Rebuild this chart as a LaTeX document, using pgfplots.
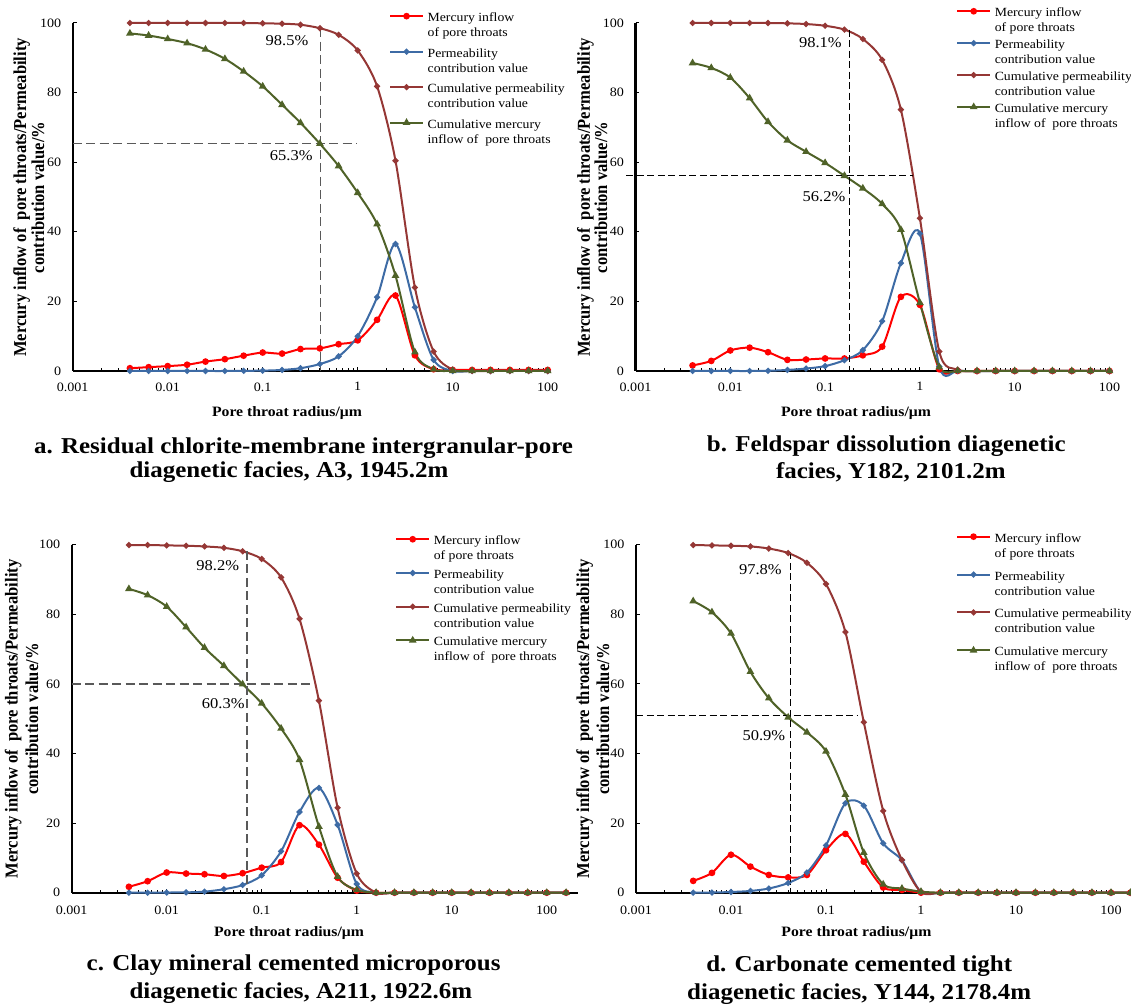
\documentclass[border=0pt]{standalone}
\usepackage{fontspec}
\setmainfont{Liberation Serif}[FakeStretch=1.1]
\newfontfamily\yfont{Liberation Serif}[FakeStretch=0.91]
\usepackage{pgfplots}
\usepackage{pgfplotstable}
\pgfplotsset{compat=1.18}

\definecolor{hgred}{HTML}{FF0000}
\definecolor{permblue}{HTML}{3D6BA5}
\definecolor{cumred}{HTML}{953735}
\definecolor{cumgreen}{HTML}{4F6228}
\definecolor{dashgray}{HTML}{595959}

\newcommand\tickfont{\fontsize{12.8}{15}\selectfont}
\newcommand\legfont{\fontsize{12.5}{15}\selectfont}
\newcommand\labfont{\fontsize{14.3}{17}\selectfont\bfseries}
\newcommand\ylabfont{\yfont\bfseries\fontsize{18.2}{20}\selectfont}
\newcommand\titfont{\fontsize{22.7}{27}\selectfont\bfseries}
\newcommand\pctfont{\fontsize{15}{18}\selectfont}
% two-line legend text: box of height 30pt, no depth, first baseline 19.5pt up
\newcommand\twol[2]{\raisebox{19.5pt}{\vtop{\hbox{\strut #1}\hbox{\strut #2}}}}

% columns: radius, mercury inflow, permeability contribution,
% cumulative permeability contribution, cumulative mercury inflow
\pgfplotstableread{
x      hg    pc    cpc    chg
0.004  0.8   0     100    97.0
0.0063 1.1   0     100    96.4
0.01   1.4   0     100    95.4
0.016  1.8   0     100    94.2
0.025  2.7   0     100    92.4
0.04   3.4   0     100    89.7
0.063  4.4   0.05  100    86.1
0.1    5.3   0.1   99.9   81.8
0.16   5.0   0.3   99.8   76.5
0.25   6.3   0.8   99.5   71.3
0.4    6.5   2.0   98.5   65.3
0.63   7.7   4.2   96.6   58.9
1      8.8   10.0  92.1   51.2
1.6    14.7  21.2  81.8   42.2
2.5    21.7  36.5  60.4   27.4
4      4.5   18.3  24.0   5.4
6.3    0.5   3.2   5.6    0.5
10     0.3   0     0.4    0
16     0.3   0     0      0
25     0.3   0     0      0
40     0.3   0     0      0
63     0.3   0     0      0
100    0.3   0     0      0
}\tabA

\pgfplotstableread{
x      hg    pc    cpc    chg
0.004  1.6   0     100    88.5
0.0063 2.9   0     100    87.1
0.01   5.9   0     100    84.3
0.016  6.7   0     100    78.4
0.025  5.4   0.05  100    71.6
0.04   3.2   0.3   99.9   66.3
0.063  3.3   0.7   99.7   63.0
0.1    3.6   1.4   99.2   59.8
0.16   3.6   3.1   98.1   56.1
0.25   4.5   6.0   95.4   52.5
0.4    7.0   14.3  89.4   48.0
0.63   21.3  31.0  75.1   40.6
1      19.0  39.5  43.9   19.6
1.6    0.5   1.3   5.6    1.1
2.5    0     0.1   0.4    0
4      0     0     0      0
6.3    0     0     0      0
10     0     0     0      0
16     0     0     0      0
25     0     0     0      0
40     0     0     0      0
63     0     0     0      0
100    0     0     0      0
}\tabB

\pgfplotstableread{
x      hg    pc    cpc    chg
0.004  1.7   0     99.9   87.3
0.0063 3.3   0     99.9   85.5
0.01   5.8   0.05  99.8   82.2
0.016  5.5   0.1   99.7   76.3
0.025  5.3   0.3   99.5   70.4
0.04   4.8   1.0   99.1   65.2
0.063  5.6   2.2   98.1   59.9
0.1    7.2   5.0   95.9   54.4
0.16   8.8   11.9  90.6   47.2
0.25   19.4  23.2  78.7   38.2
0.4    13.8  30.1  55.2   19.0
0.63   4.3   19.5  24.4   4.6
1      0.6   2.5   5.5    0.8
1.6    0     0     0      0
2.5    0     0     0      0
4      0     0     0      0
6.3    0     0     0      0
10     0     0     0      0
16     0     0     0      0
25     0     0     0      0
40     0     0     0      0
63     0     0     0      0
100    0     0     0      0
160    0     0     0      0
}\tabC

\pgfplotstableread{
x      hg    pc    cpc    chg
0.004  3.4   0     99.9   83.8
0.0063 5.7   0.05  99.8   80.6
0.01   10.9  0.2   99.7   74.5
0.016  7.5   0.5   99.5   63.5
0.025  5.1   1.2   98.9   55.9
0.04   4.4   2.8   97.6   50.4
0.063  5.1   5.8   94.8   46.1
0.1    12.2  13.6  88.7   40.6
0.16   16.9  25.7  74.9   28.2
0.25   8.9   25.0  49.0   11.5
0.4    1.5   14.2  23.5   2.4
0.63   0.8   9.3   9.4    1.2
1      0     0.2   0.2    0.3
1.6    0     0     0      0
2.5    0     0     0      0
4      0     0     0      0
6.3    0     0     0      0
10     0     0     0      0
16     0     0     0      0
25     0     0     0      0
40     0     0     0      0
63     0     0     0      0
100    0     0     0      0
160    0     0     0      0
}\tabD

\pgfplotsset{
  legend image code/.code={\draw[mark repeat=2, mark phase=2, #1] plot coordinates {(0pt,25pt) (16.5pt,25pt) (33pt,25pt)};},
  mypanel/.style={
    scale only axis,
    height=348pt,
    ymin=0, ymax=100,
    xtick={0.001,0.01,0.1,1,10,100},
    xticklabels={0.001,0.01,0.1,1,10,100},
    ytick={0,20,40,60,80,100},
    axis x line=bottom, axis y line=left,
    axis line style={-, line width=2.2pt, black},
    tick align=inside, major tick length=4pt,
    tick style={black, line width=1pt},
    tick label style={font=\tickfont},
    yticklabel style={xshift=-8pt},
    clip=false,
    legend cell align=left,
  },
  myleg/.style n args={3}{legend style={at={(#1,#2)}, anchor=north west, draw=none, fill=none,
      inner sep=0pt, outer sep=0pt, row sep=#3, column sep=3.6pt, font=\legfont,
      nodes={inner sep=0pt, outer sep=0pt, anchor=base west}, cells={anchor=base west}}},
  sHg/.style={color=hgred, line width=2pt, smooth, mark=*, mark size=2.3pt, mark options={solid}},
  sPc/.style={color=permblue, line width=2pt, smooth, mark=*, mark size=1.9pt, mark options={solid}},
  sCpc/.style={color=cumred, line width=2pt, smooth, mark=*, mark size=1.9pt, mark options={solid}},
  sChg/.style={color=cumgreen, line width=2pt, smooth, mark=triangle*, mark size=2.5pt, mark options={solid}},
  dashA/.style={dashgray, line width=1.4pt, dash pattern=on 9pt off 4.5pt, forget plot},
  dashB/.style={black, line width=1.1pt, dash pattern=on 7pt off 3.5pt, forget plot},
}

\begin{document}
\begin{tikzpicture}
\useasboundingbox (0,0) rectangle (1131pt,1006pt);

% ---------- a ----------
\begin{axis}[mypanel, xmode=log, xmin=0.001, xmax=100, width=475pt,
    at={(72.7pt,635pt)}, anchor=south west,
    /pgf/number format/assume math mode=true,
    xticklabel style={yshift=-8pt}, myleg={0.666}{1.034}{4pt}]
\addplot[sHg] table[x=x,y=hg]{\tabA};
\addlegendentry{\twol{Mercury inflow}{of pore throats}}
\addplot[sPc] table[x=x,y=pc]{\tabA};
\addlegendentry{\twol{Permeability}{contribution value}}
\addplot[sCpc] table[x=x,y=cpc]{\tabA};
\addlegendentry{\twol{Cumulative permeability}{contribution value}}
\addplot[sChg] table[x=x,y=chg]{\tabA};
\addlegendentry{\twol{Cumulative mercury}{inflow of \ pore throats}}
\addplot[dashA] coordinates {(0.408,98.5) (0.408,0)};
\addplot[dashA] coordinates {(0.001,65.3) (0.975,65.3)};
\node[font=\pctfont] at (axis cs:0.18,94.9) {98.5\%};
\node[font=\pctfont] at (axis cs:0.2,62.0) {65.3\%};
\end{axis}

% ---------- b ----------
\begin{axis}[mypanel, xmode=log, xmin=0.001, xmax=100, width=474pt,
    at={(635.5pt,635pt)}, anchor=south west,
    /pgf/number format/assume math mode=true,
    xticklabel style={yshift=-8pt}, myleg={0.6766}{1.048}{0.4pt}]
\addplot[sHg] table[x=x,y=hg]{\tabB};
\addlegendentry{\twol{Mercury inflow}{of pore throats}}
\addplot[sPc] table[x=x,y=pc]{\tabB};
\addlegendentry{\twol{Permeability}{contribution value}}
\addplot[sCpc] table[x=x,y=cpc]{\tabB};
\addlegendentry{\twol{Cumulative permeability}{contribution value}}
\addplot[sChg] table[x=x,y=chg]{\tabB};
\addlegendentry{\twol{Cumulative mercury}{inflow of \ pore throats}}
\addplot[dashB] coordinates {(0.18,98.1) (0.18,0)};
\addplot[dashB] coordinates {(0.0008,56.2) (0.853,56.2)};
\node[font=\pctfont] at (axis cs:0.0892,94.3) {98.1\%};
\node[font=\pctfont] at (axis cs:0.0974,50.1) {56.2\%};
\end{axis}

% ---------- c ----------
\begin{axis}[mypanel, xmode=log, xmin=0.001, xmax=213.5, width=506.3pt,
    at={(71.7pt,113.3pt)}, anchor=south west,
    /pgf/number format/assume math mode=true,
    xticklabel style={yshift=-9.7pt}, myleg={0.639}{1.030}{2.2pt}]
\addplot[sHg] table[x=x,y=hg]{\tabC};
\addlegendentry{\twol{Mercury inflow}{of pore throats}}
\addplot[sPc] table[x=x,y=pc]{\tabC};
\addlegendentry{\twol{Permeability}{contribution value}}
\addplot[sCpc] table[x=x,y=cpc]{\tabC};
\addlegendentry{\twol{Cumulative permeability}{contribution value}}
\addplot[sChg] table[x=x,y=chg]{\tabC};
\addlegendentry{\twol{Cumulative mercury}{inflow of \ pore throats}}
\addplot[dashA] coordinates {(0.0703,98.2) (0.0703,0)};
\addplot[dashA] coordinates {(0.001,60) (0.34,60)};
\node[font=\pctfont] at (axis cs:0.0345,94.0) {98.2\%};
\node[font=\pctfont] at (axis cs:0.0394,54.2) {60.3\%};
\end{axis}

% ---------- d ----------
\begin{axis}[mypanel, xmode=log, xmin=0.001, xmax=162.4, width=495pt,
    at={(636pt,113.3pt)}, anchor=south west,
    /pgf/number format/assume math mode=true,
    xticklabel style={yshift=-9.7pt}, myleg={0.6465}{1.0375}{6.4pt}]
\addplot[sHg] table[x=x,y=hg]{\tabD};
\addlegendentry{\twol{Mercury inflow}{of pore throats}}
\addplot[sPc] table[x=x,y=pc]{\tabD};
\addlegendentry{\twol{Permeability}{contribution value}}
\addplot[sCpc] table[x=x,y=cpc]{\tabD};
\addlegendentry{\twol{Cumulative permeability}{contribution value}}
\addplot[sChg] table[x=x,y=chg]{\tabD};
\addlegendentry{\twol{Cumulative mercury}{inflow of \ pore throats}}
\addplot[dashB] coordinates {(0.0427,97.8) (0.0427,0)};
\addplot[dashB] coordinates {(0.001,51) (0.213,51)};
\node[font=\pctfont] at (axis cs:0.0204,92.8) {97.8\%};
\node[font=\pctfont] at (axis cs:0.0222,45.1) {50.9\%};
\end{axis}

% axis labels
\foreach \l/\r/\cy in {26.2/44/808.5, 589.8/607/808.5, 17.6/38/287, 589/609/287}{
  \node[rotate=90, anchor=base, font=\ylabfont, inner sep=0pt] at (\l pt,\cy pt) {Mercury inflow of \ pore throats/Permeability};
  \node[rotate=90, anchor=base, font=\ylabfont, inner sep=0pt] at (\r pt,\cy pt) {contribution value/\%};
}
\node[anchor=base, font=\labfont] at (287pt,589.3pt) {Pore throat radius/μm};
\node[anchor=base, font=\labfont] at (856pt,589.3pt) {Pore throat radius/μm};
\node[anchor=base, font=\labfont] at (289pt,69.3pt) {Pore throat radius/μm};
\node[anchor=base, font=\labfont] at (856.4pt,69.3pt) {Pore throat radius/μm};

% panel titles
\node[anchor=base, font=\titfont, inner sep=0pt] at (303.5pt,552.7pt) {a. Residual chlorite-membrane intergranular-pore};
\node[anchor=base, font=\titfont, inner sep=0pt] at (289pt,528.7pt) {diagenetic facies, A3, 1945.2m};
\node[anchor=base, font=\titfont, inner sep=0pt] at (886.3pt,554.3pt) {b. Feldspar dissolution diagenetic};
\node[anchor=base, font=\titfont, inner sep=0pt] at (890.8pt,527.7pt) {facies, Y182, 2101.2m};
\node[anchor=base, font=\titfont, inner sep=0pt] at (293.6pt,35.3pt) {c. Clay mineral cemented microporous};
\node[anchor=base, font=\titfont, inner sep=0pt] at (300.9pt,7.7pt) {diagenetic facies, A211, 1922.6m};
\node[anchor=base, font=\titfont, inner sep=0pt] at (859.2pt,34.3pt) {d. Carbonate cemented tight};
\node[anchor=base, font=\titfont, inner sep=0pt] at (859.2pt,6.7pt) {diagenetic facies, Y144, 2178.4m};
\end{tikzpicture}
\end{document}
